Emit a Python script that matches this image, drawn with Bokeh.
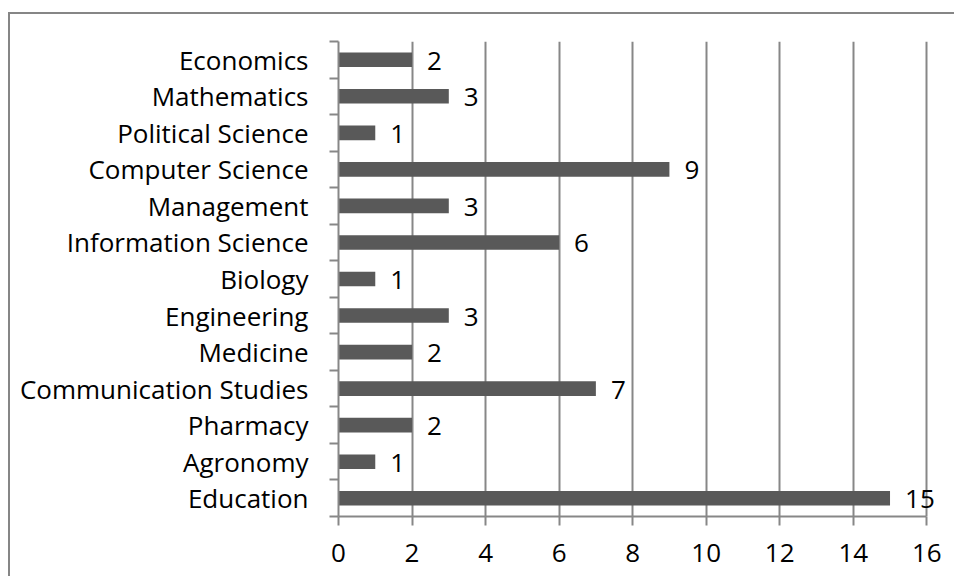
from bokeh.plotting import figure
from bokeh.models import ColumnDataSource, FixedTicker, Range1d, LabelSet
from bokeh.core.properties import value
from bokeh.embed import file_html
from bokeh.resources import INLINE

categories = ["Education", "Agronomy", "Pharmacy", "Communication Studies", "Medicine",
              "Engineering", "Biology", "Information Science", "Management",
              "Computer Science", "Political Science", "Mathematics", "Economics"]
counts = [15, 1, 2, 7, 2, 3, 1, 6, 3, 9, 1, 3, 2]
x_ticks = [0, 2, 4, 6, 8, 10, 12, 14, 16]

FONT = "Open Sans"
FS = "26px"
GRAY = "#878787"

X_MAX = 16
X_VIEW = 16.4  # extra room so the last value label is not clipped

pos = [i + 0.5 for i in range(len(categories))]
src = ColumnDataSource(dict(y=pos, v=counts, lab=[str(c) for c in counts]))

p = figure(output_backend="svg", toolbar_location=None,
           x_range=Range1d(0, X_VIEW), y_range=Range1d(0, len(categories)),
           frame_width=round(588 * X_VIEW / X_MAX), frame_height=475,
           min_border_left=328, min_border_right=13, min_border_top=27, min_border_bottom=60)
p.outline_line_color = None
p.background_fill_color = "white"
p.border_fill_color = "white"
p.margin = (12, 0, 0, 8)
p.styles = {"border-left": "2px solid #868686", "border-top": "2px solid #868686"}

p.hbar(y="y", right="v", left=0, height=0.4, source=src, fill_color="#595959", line_color=None)

labels = LabelSet(x="v", y="y", text="lab", source=src, x_offset=15, y_offset=-1,
                  text_baseline="middle",
                  text_font=value(FONT), text_font_size=value(FS), text_color="black")
p.add_layout(labels)

# x axis
p.xaxis.ticker = FixedTicker(ticks=x_ticks, minor_ticks=[])
p.xaxis.bounds = (0, X_MAX)
p.xaxis.axis_line_color = GRAY
p.xaxis.axis_line_width = 2
p.xaxis.major_tick_line_color = GRAY
p.xaxis.major_tick_line_width = 2
p.xaxis.major_tick_in = 0
p.xaxis.major_tick_out = 9
p.xaxis.minor_tick_line_color = None
p.xaxis.major_label_text_font = FONT
p.xaxis.major_label_text_font_size = FS
p.xaxis.major_label_text_color = "black"
p.xaxis.major_label_standoff = 18

# y axis: labels at centres, tick marks at boundaries
p.yaxis.ticker = FixedTicker(ticks=pos, minor_ticks=list(range(len(categories) + 1)))
p.yaxis.major_label_overrides = {pv: c for pv, c in zip(pos, categories)}
p.yaxis.axis_line_color = GRAY
p.yaxis.axis_line_width = 2
p.yaxis.major_tick_line_color = None
p.yaxis.major_tick_in = 0
p.yaxis.major_tick_out = 9
p.yaxis.minor_tick_line_color = GRAY
p.yaxis.minor_tick_line_width = 2
p.yaxis.minor_tick_in = 0
p.yaxis.minor_tick_out = 9
p.yaxis.major_label_text_font = FONT
p.yaxis.major_label_text_font_size = FS
p.yaxis.major_label_text_color = "black"
p.yaxis.major_label_standoff = 21

p.xgrid.ticker = FixedTicker(ticks=x_ticks, minor_ticks=[])
p.xgrid.grid_line_color = GRAY
p.xgrid.grid_line_width = 2
p.ygrid.grid_line_color = None

open("out.html", "w").write(file_html(p, INLINE))
